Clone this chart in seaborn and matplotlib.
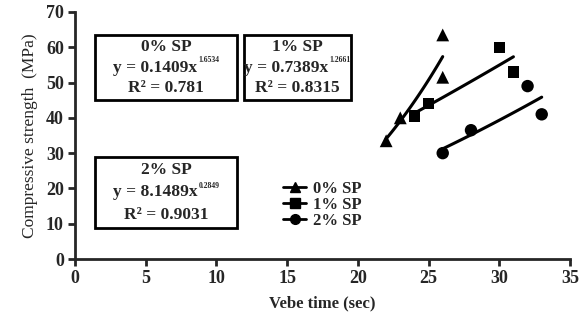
import numpy as np
import pandas as pd
import matplotlib
matplotlib.use("Agg")
import matplotlib.pyplot as plt
from matplotlib.patches import Rectangle
from matplotlib.lines import Line2D
import seaborn as sns

# Data
vebe_0 = [22, 23, 26, 26]
strength_0 = [33.5, 40, 51.5, 63.5]
vebe_1 = [24, 25, 30, 31]
strength_1 = [40.5, 44, 60, 53]
vebe_2 = [26, 28, 32, 33]
strength_2 = [30, 36.5, 49, 41]
series_names = ['0% SP', '1% SP', '2% SP']
eq_coef = ['0.1409', '0.7389', '8.1489']
eq_power = ['1.6534', '1.2661', '0.2849']
eq_r2 = ['0.781', '0.8315', '0.9031']

df = pd.DataFrame({
    'Vebe': vebe_0 + vebe_1 + vebe_2,
    'Strength': strength_0 + strength_1 + strength_2,
    'Mix': [series_names[0]] * 4 + [series_names[1]] * 4 + [series_names[2]] * 4,
})

sns.set_style('ticks')
plt.rcParams['font.family'] = ['Liberation Serif', 'DejaVu Serif']
plt.rcParams['font.weight'] = 'bold'

W, H = 582, 325
fig = plt.figure(figsize=(W / 100, H / 100), dpi=100)
ax = fig.add_axes([75 / W, (H - 259) / H, (570 - 75) / W, (259 - 12) / H])

markers = {'0% SP': '^', '1% SP': 's', '2% SP': 'o'}
sizes = {'0% SP': 85, '1% SP': 65, '2% SP': 80}
for name in series_names:
    sub = df[df['Mix'] == name]
    sns.scatterplot(data=sub, x='Vebe', y='Strength', marker=markers[name],
                    s=sizes[name], color='black', edgecolor='none', ax=ax,
                    legend=False, zorder=3)
    # power-law trend line fitted in log space
    b, a = np.polyfit(np.log(sub['Vebe']), np.log(sub['Strength']), 1)
    xs = np.linspace(sub['Vebe'].min(), sub['Vebe'].max(), 50)
    ax.plot(xs, np.exp(a) * xs ** b, color='black', lw=2.2)

ax.set_xlim(0, 35)
ax.set_ylim(0, 70)
ax.set_xticks(range(0, 36, 5))
ax.set_yticks(range(0, 71, 10))
sns.despine(ax=ax)
for s in ['left', 'bottom']:
    ax.spines[s].set_linewidth(2)
ax.tick_params(width=2, length=5, labelsize=13, pad=3)
for lab in ax.get_xticklabels() + ax.get_yticklabels():
    lab.set_fontweight('bold')
ax.set_xlabel('Vebe time (sec)', fontsize=12, fontweight='bold', labelpad=6)
ax.set_ylabel('Compressive strength  (MPa)', fontsize=12.5, fontweight='normal', labelpad=6)

# equation boxes (image pixel coords)
boxes = [(95, 35, 237, 100), (244, 35, 351, 100), (95, 157, 237, 228)]
fs = 12.5
renderer = fig.canvas.get_renderer()
for i, (x0, y0, x1, y1) in enumerate(boxes):
    fig.add_artist(Rectangle((x0 / W, (H - y1) / H), (x1 - x0) / W, (y1 - y0) / H,
                             transform=fig.transFigure, fill=False, lw=2,
                             edgecolor='black'))
    cx = (x0 + x1) / 2
    step = (y1 - y0) / 3
    ys = [y0 + step * 0.55, y0 + step * 1.5, y0 + step * 2.45]
    fig.text(cx / W, (H - ys[0]) / H, series_names[i], ha='center', va='center',
             fontsize=fs, fontweight='bold')
    main = fig.text(0, (H - ys[1]) / H, 'y = ' + eq_coef[i] + 'x', ha='left',
                    va='center', fontsize=fs, fontweight='bold')
    sup = fig.text(0, (H - ys[1] + 7) / H, eq_power[i], ha='left',
                   va='center', fontsize=5.5, fontweight='bold')
    wm = main.get_window_extent(renderer).width
    ws = sup.get_window_extent(renderer).width
    left = cx - (wm + ws + 1) / 2
    main.set_x(left / W)
    sup.set_x((left + wm + 1) / W)
    fig.text(cx / W, (H - ys[2]) / H, 'R\u00b2 = ' + eq_r2[i], ha='center',
             va='center', fontsize=fs, fontweight='bold')

handles = [Line2D([], [], color='black', lw=2, marker=markers[n], markersize=7)
           for n in series_names]
fig.legend(handles, series_names, loc='upper left',
           bbox_to_anchor=(268 / W, (H - 166) / H), frameon=False,
           handlelength=1.4, handletextpad=0.4, labelspacing=0.0,
           prop={'size': 12, 'weight': 'bold'})

fig.savefig('out.png', dpi=100)
